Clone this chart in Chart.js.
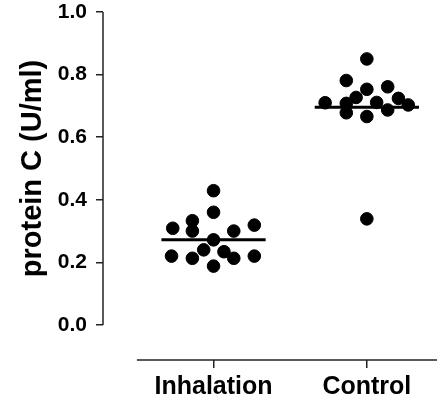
<!DOCTYPE html>
<html>
<head>
<meta charset="utf-8">
<script src="https://cdn.jsdelivr.net/npm/chart.js@4/dist/chart.umd.min.js"></script>
<style>
  html, body { margin: 0; padding: 0; background: #fff; }
  #wrap { width: 437px; height: 403px; }
</style>
</head>
<body>
<div id="wrap"><canvas id="chart"></canvas></div>
<script>
// groupes
const categories = ["Inhalation", "Control"];
const y_ticks = [0, 0.2, 0.4, 0.6, 0.8, 1.0];
const y_title = "protein C (U/ml)";

// valeurs
const inhalation_values = [0.429, 0.360, 0.309, 0.333, 0.300, 0.300, 0.319, 0.272, 0.240, 0.234, 0.220, 0.213, 0.213, 0.220, 0.188];
const inhalation_jitter = [0, 0, -0.266, -0.138, -0.138, 0.132, 0.266, 0, -0.064, 0.068, -0.274, -0.138, 0.132, 0.266, 0];
const control_values = [0.850, 0.781, 0.753, 0.761, 0.727, 0.710, 0.708, 0.711, 0.724, 0.703, 0.678, 0.666, 0.687, 0.339];
const control_jitter = [0, -0.134, 0, 0.136, -0.070, -0.272, -0.134, 0.064, 0.206, 0.270, -0.134, 0, 0.136, 0];
const medians = [0.272, 0.696];
const median_half_width = 0.34;

const to_points = (values, jitter, index) =>
    values.map((v, i) => ({ x: index + jitter[i], y: v }));

const median_line = (index) => [
    { x: index - median_half_width, y: medians[index] },
    { x: index + median_half_width, y: medians[index] },
];

// axes détachés façon Prism + titre vertical
const axes_plugin = {
    id: "axes_plugin",
    afterDraw(chart) {
        const ctx = chart.ctx;
        const xs = chart.scales.x;
        const ys = chart.scales.y;
        ctx.save();
        ctx.strokeStyle = "#222";
        ctx.lineWidth = 1.5;
        ctx.beginPath();
        ctx.moveTo(ys.right, ys.getPixelForValue(1.0));
        ctx.lineTo(ys.right, ys.getPixelForValue(0));
        ctx.stroke();
        ctx.beginPath();
        ctx.moveTo(xs.getPixelForValue(-0.5), xs.top);
        ctx.lineTo(chart.width, xs.top);
        ctx.stroke();

        ctx.translate(33, (ys.getPixelForValue(0) + ys.getPixelForValue(1.0)) / 2);
        ctx.rotate(-Math.PI / 2);
        ctx.fillStyle = "#000";
        ctx.font = "bold 29px 'Liberation Sans', Arial, sans-serif";
        ctx.textAlign = "center";
        ctx.textBaseline = "middle";
        ctx.fillText(y_title, 0, 0);
        ctx.restore();
    },
};

const ctx = document.getElementById("chart");

new Chart(ctx, {
    type: "scatter",
    data: {
        datasets: [
            {
                label: categories[0],
                data: to_points(inhalation_values, inhalation_jitter, 0),
                backgroundColor: "#000",
                borderColor: "#000",
                pointRadius: 6.3,
                pointHoverRadius: 6.3,
            },
            {
                label: categories[1],
                data: to_points(control_values, control_jitter, 1),
                backgroundColor: "#000",
                borderColor: "#000",
                pointRadius: 6.3,
                pointHoverRadius: 6.3,
            },
            {
                type: "line",
                data: median_line(0),
                borderColor: "#000",
                borderWidth: 3,
                pointRadius: 0,
            },
            {
                type: "line",
                data: median_line(1),
                borderColor: "#000",
                borderWidth: 3,
                pointRadius: 0,
            },
        ],
    },
    options: {
        responsive: true,
        maintainAspectRatio: false,
        animation: false,
        layout: { padding: { top: 12, right: 0, left: 0, bottom: 0 } },
        plugins: {
            legend: { display: false },
            tooltip: { enabled: false },
        },
        scales: {
            x: {
                type: "linear",
                min: -0.721,
                max: 1.41,
                border: { display: false },
                grid: {
                    drawOnChartArea: false,
                    drawTicks: true,
                    tickLength: 8,
                    color: "#222",
                    lineWidth: 1.5,
                },
                afterBuildTicks: (scale) => {
                    scale.ticks = categories.map((c, i) => ({ value: i }));
                },
                afterFit: (scale) => {
                    scale.height = 43;
                    scale.paddingLeft = 0;
                    scale.paddingRight = 0;
                },
                ticks: {
                    padding: 4,
                    color: "#000",
                    font: { family: "'Liberation Sans', Arial, sans-serif", size: 25, weight: "bold" },
                    callback: (value) => categories[value],
                },
            },
            y: {
                min: -0.112,
                max: 1.0,
                border: { display: false },
                grid: {
                    drawOnChartArea: false,
                    drawTicks: true,
                    tickLength: 7,
                    color: "#222",
                    lineWidth: 1.5,
                },
                afterBuildTicks: (scale) => {
                    scale.ticks = y_ticks.map((v) => ({ value: v }));
                },
                afterFit: (scale) => {
                    scale.width = 103;
                    scale.paddingTop = 0;
                    scale.paddingBottom = 0;
                },
                ticks: {
                    padding: 9,
                    color: "#000",
                    font: { family: "'Liberation Sans', Arial, sans-serif", size: 21, weight: "bold" },
                    callback: (value) => value.toFixed(1),
                },
            },
        },
    },
    plugins: [axes_plugin],
});
</script>
</body>
</html>
